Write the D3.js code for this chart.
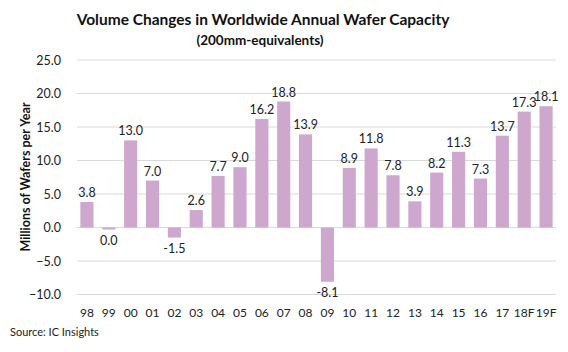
<!DOCTYPE html>
<html>
<head>
<meta charset="utf-8">
<script src="https://cdn.jsdelivr.net/npm/d3@7.9.0/dist/d3.min.js"></script>
<style>
  body { margin: 0; background: #fff; }
  svg { font-family: Lato, "Open Sans", sans-serif; }
</style>
</head>
<body>
<svg id="chart"></svg>
<script>
const years = ["98","99","00","01","02","03","04","05","06","07","08","09","10","11","12","13","14","15","16","17","18F","19F"];
const capacity = [3.8,-0.3,13.0,7.0,-1.5,2.6,7.7,9.0,16.2,18.8,13.9,-8.1,8.9,11.8,7.8,3.9,8.2,11.3,7.3,13.7,17.3,18.1];
const valueLabels = ["3.8","0.0","13.0","7.0","-1.5","2.6","7.7","9.0","16.2","18.8","13.9","-8.1","8.9","11.8","7.8","3.9","8.2","11.3","7.3","13.7","17.3","18.1"];
const yTicks = [-10,-5,0,5,10,15,20,25];

const width = 568, height = 352;
const margin = {top: 60, right: 11, bottom: 57.5, left: 76};

const svg = d3.select("#chart").attr("width", width).attr("height", height);

const x = d3.scaleBand().domain(years).range([margin.left, width - margin.right]).paddingInner(0.4).paddingOuter(0.2);
const y = d3.scaleLinear().domain([-10, 25]).range([height - margin.bottom, margin.top]);

// gridlines
svg.append("g")
  .selectAll("line")
  .data(yTicks)
  .join("line")
  .attr("x1", margin.left + 1)
  .attr("x2", width - margin.right - 1)
  .attr("y1", d => y(d))
  .attr("y2", d => y(d))
  .attr("stroke", "#d9d9d9")
  .attr("stroke-width", 1);

// y axis labels
const yAxis = svg.append("g")
  .attr("transform", `translate(${margin.left - 12},0)`)
  .call(d3.axisLeft(y).tickValues(yTicks).tickFormat(d3.format(".1f")).tickSize(0));
yAxis.select(".domain").remove();
yAxis.selectAll("text").attr("font-size", 12.5).attr("fill", "#222").attr("font-family", "Lato, sans-serif");

// bars
svg.append("g")
  .selectAll("rect")
  .data(capacity)
  .join("rect")
  .attr("x", (d, i) => x(years[i]))
  .attr("width", x.bandwidth())
  .attr("y", d => y(Math.max(0, d)))
  .attr("height", d => Math.abs(y(d) - y(0)))
  .attr("fill", "#cda7cd");

// value labels
svg.append("g")
  .selectAll("text")
  .data(capacity)
  .join("text")
  .attr("x", (d, i) => x(years[i]) + x.bandwidth() / 2)
  .attr("y", d => d >= 0 ? y(d) - 5 : y(d) + 15)
  .attr("text-anchor", "middle")
  .attr("font-size", 12.5)
  .attr("fill", "#222")
  .text((d, i) => valueLabels[i]);

// x axis labels
const xAxis = svg.append("g")
  .attr("transform", `translate(0,${y(-10) + 11})`)
  .call(d3.axisBottom(x).tickSize(0));
xAxis.select(".domain").remove();
xAxis.selectAll("text").attr("font-size", 12).attr("fill", "#222").attr("font-family", "Lato, sans-serif");

// titles
svg.append("text")
  .attr("x", 263).attr("y", 25)
  .attr("text-anchor", "middle")
  .attr("font-size", 15.5).attr("font-weight", "bold")
  .attr("fill", "#111")
  .text("Volume Changes in Worldwide Annual Wafer Capacity");

svg.append("text")
  .attr("x", 260).attr("y", 45)
  .attr("text-anchor", "middle")
  .attr("font-size", 13.5).attr("font-weight", "bold")
  .attr("fill", "#111")
  .text("(200mm-equivalents)");

svg.append("text")
  .attr("transform", "translate(30,177) rotate(-90)")
  .attr("text-anchor", "middle")
  .attr("font-size", 12.5).attr("font-weight", "bold")
  .attr("fill", "#111")
  .text("Millions of Wafers per Year");

svg.append("text")
  .attr("x", 10).attr("y", 336)
  .attr("font-size", 11)
  .attr("fill", "#222")
  .text("Source:  IC Insights");
</script>
</body>
</html>
